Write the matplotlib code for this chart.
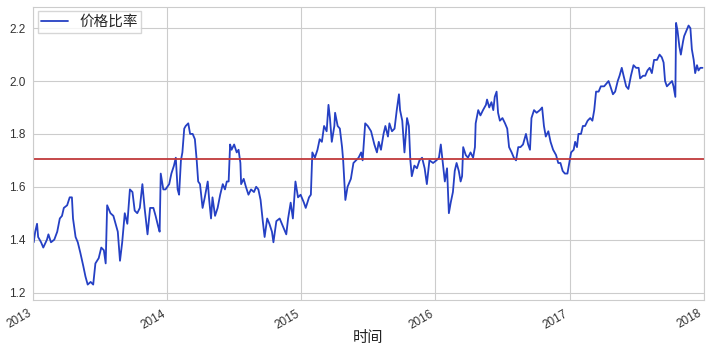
import numpy as np
import pandas as pd
import matplotlib
matplotlib.use('Agg')
import matplotlib.pyplot as plt
import matplotlib.dates as mdates
import seaborn as sns

# --- DANE ---

dates_2013 = ['2013-01-02', '2013-01-06', '2013-01-11', '2013-01-14', '2013-01-22', '2013-01-28',
              '2013-02-07', '2013-02-11', '2013-02-18', '2013-02-27', '2013-03-07', '2013-03-14',
              '2013-03-20', '2013-03-25', '2013-04-03', '2013-04-10', '2013-04-16', '2013-04-19',
              '2013-04-26', '2013-05-02', '2013-05-09', '2013-05-17', '2013-05-23', '2013-05-29',
              '2013-06-06', '2013-06-13', '2013-06-19', '2013-06-28', '2013-07-05', '2013-07-12',
              '2013-07-17', '2013-07-21', '2013-07-30', '2013-08-07', '2013-08-13', '2013-08-19',
              '2013-08-25', '2013-08-31', '2013-09-07', '2013-09-14', '2013-09-21', '2013-09-28',
              '2013-10-04', '2013-10-11', '2013-10-18', '2013-10-25', '2013-10-31', '2013-11-08',
              '2013-11-15', '2013-11-24', '2013-11-30', '2013-12-07', '2013-12-11', '2013-12-14',
              '2013-12-21', '2013-12-27']
ratio_2013 = [1.39, 1.43, 1.46, 1.41, 1.39, 1.37,
              1.40, 1.42, 1.39, 1.40, 1.43, 1.48,
              1.49, 1.52, 1.53, 1.56, 1.56, 1.48,
              1.41, 1.39, 1.35, 1.30, 1.26, 1.23,
              1.24, 1.23, 1.31, 1.33, 1.37, 1.36,
              1.31, 1.53, 1.50, 1.49, 1.46, 1.43,
              1.32, 1.39, 1.50, 1.46, 1.59, 1.58,
              1.51, 1.50, 1.52, 1.61, 1.52, 1.42,
              1.52, 1.52, 1.49, 1.45, 1.43, 1.65,
              1.59, 1.59]

dates_2014 = ['2014-01-06', '2014-01-12', '2014-01-19', '2014-01-24', '2014-01-29', '2014-02-02',
              '2014-02-07', '2014-02-11', '2014-02-16', '2014-02-20', '2014-02-27', '2014-03-04',
              '2014-03-11', '2014-03-17', '2014-03-22', '2014-03-26', '2014-03-31', '2014-04-07',
              '2014-04-13', '2014-04-21', '2014-04-25', '2014-04-30', '2014-05-04', '2014-05-11',
              '2014-05-18', '2014-05-25', '2014-06-01', '2014-06-07', '2014-06-12', '2014-06-17',
              '2014-06-21', '2014-06-25', '2014-07-02', '2014-07-09', '2014-07-14', '2014-07-19',
              '2014-07-21', '2014-07-28', '2014-08-03', '2014-08-10', '2014-08-17', '2014-08-25',
              '2014-08-31', '2014-09-06', '2014-09-12', '2014-09-18', '2014-09-23', '2014-09-30',
              '2014-10-06', '2014-10-13', '2014-10-17', '2014-10-25', '2014-11-03', '2014-11-09',
              '2014-11-15', '2014-11-21', '2014-11-26', '2014-12-03', '2014-12-09', '2014-12-16',
              '2014-12-23', '2014-12-30']
ratio_2014 = [1.61, 1.65, 1.68, 1.71, 1.59, 1.57,
              1.70, 1.73, 1.82, 1.83, 1.84, 1.80,
              1.80, 1.78, 1.70, 1.62, 1.61, 1.52,
              1.56, 1.62, 1.55, 1.48, 1.56, 1.49,
              1.52, 1.57, 1.61, 1.59, 1.62, 1.62,
              1.76, 1.74, 1.76, 1.73, 1.74, 1.69,
              1.61, 1.63, 1.60, 1.57, 1.59, 1.58,
              1.60, 1.59, 1.55, 1.47, 1.41, 1.48,
              1.46, 1.43, 1.39, 1.47, 1.48, 1.46,
              1.44, 1.42, 1.48, 1.54, 1.48, 1.62,
              1.56, 1.57]

dates_2015 = ['2015-01-08', '2015-01-13', '2015-01-22', '2015-01-27', '2015-01-31', '2015-02-07',
              '2015-02-14', '2015-02-20', '2015-02-26', '2015-03-04', '2015-03-11', '2015-03-16',
              '2015-03-20', '2015-03-25', '2015-04-01', '2015-04-03', '2015-04-10', '2015-04-16',
              '2015-04-22', '2015-04-25', '2015-05-01', '2015-05-07', '2015-05-16', '2015-05-23',
              '2015-05-30', '2015-06-06', '2015-06-13', '2015-06-17', '2015-06-24', '2015-07-01',
              '2015-07-10', '2015-07-19', '2015-07-26', '2015-07-31', '2015-08-06', '2015-08-13',
              '2015-08-18', '2015-08-25', '2015-08-29', '2015-09-05', '2015-09-12', '2015-09-18',
              '2015-09-24', '2015-09-27', '2015-10-03', '2015-10-09', '2015-10-16', '2015-10-21',
              '2015-10-25', '2015-10-29', '2015-11-05', '2015-11-12', '2015-11-19', '2015-11-26',
              '2015-12-03', '2015-12-09', '2015-12-16', '2015-12-26']
ratio_2015 = [1.54, 1.52, 1.56, 1.57, 1.73, 1.71,
              1.74, 1.78, 1.77, 1.83, 1.81, 1.91,
              1.86, 1.77, 1.83, 1.88, 1.83, 1.82,
              1.75, 1.70, 1.55, 1.60, 1.63, 1.69,
              1.70, 1.71, 1.73, 1.70, 1.84, 1.83,
              1.81, 1.76, 1.73, 1.77, 1.74, 1.80,
              1.83, 1.79, 1.84, 1.81, 1.82, 1.89,
              1.95, 1.89, 1.85, 1.73, 1.86, 1.83,
              1.70, 1.64, 1.68, 1.67, 1.70, 1.71,
              1.67, 1.61, 1.70, 1.69]

dates_2016 = ['2016-01-04', '2016-01-11', '2016-01-16', '2016-01-20', '2016-01-27', '2016-02-02',
              '2016-02-07', '2016-02-12', '2016-02-18', '2016-02-23', '2016-02-28', '2016-03-05',
              '2016-03-10', '2016-03-14', '2016-03-17', '2016-03-24', '2016-03-30', '2016-04-06',
              '2016-04-13', '2016-04-18', '2016-04-20', '2016-04-27', '2016-05-03', '2016-05-10',
              '2016-05-18', '2016-05-21', '2016-05-27', '2016-06-02', '2016-06-07', '2016-06-11',
              '2016-06-16', '2016-06-20', '2016-06-25', '2016-07-02', '2016-07-09', '2016-07-15',
              '2016-07-20', '2016-07-27', '2016-08-02', '2016-08-08', '2016-08-14', '2016-08-20',
              '2016-08-27', '2016-09-04', '2016-09-10', '2016-09-15', '2016-09-19', '2016-09-26',
              '2016-10-03', '2016-10-12', '2016-10-18', '2016-10-23', '2016-10-28', '2016-11-04',
              '2016-11-10', '2016-11-17', '2016-11-25', '2016-12-01', '2016-12-07', '2016-12-13',
              '2016-12-19', '2016-12-26']
ratio_2016 = [1.70, 1.71, 1.76, 1.71, 1.62, 1.67,
              1.50, 1.54, 1.58, 1.66, 1.69, 1.66,
              1.62, 1.64, 1.75, 1.72, 1.71, 1.73,
              1.71, 1.75, 1.84, 1.89, 1.87, 1.89,
              1.91, 1.93, 1.90, 1.92, 1.89, 1.94,
              1.96, 1.88, 1.85, 1.86, 1.84, 1.82,
              1.75, 1.73, 1.71, 1.70, 1.75, 1.75,
              1.76, 1.80, 1.76, 1.74, 1.86, 1.89,
              1.88, 1.89, 1.90, 1.83, 1.79, 1.81,
              1.77, 1.74, 1.72, 1.69, 1.69, 1.66,
              1.65, 1.65]

dates_2017 = ['2017-01-05', '2017-01-12', '2017-01-16', '2017-01-21', '2017-01-25', '2017-02-01',
              '2017-02-06', '2017-02-12', '2017-02-19', '2017-02-26', '2017-03-04', '2017-03-09',
              '2017-03-14', '2017-03-21', '2017-03-27', '2017-04-05', '2017-04-17', '2017-04-22',
              '2017-04-29', '2017-05-05', '2017-05-12', '2017-05-17', '2017-05-23', '2017-05-28',
              '2017-06-04', '2017-06-10', '2017-06-17', '2017-06-24', '2017-07-01', '2017-07-08',
              '2017-07-12', '2017-07-20', '2017-07-26', '2017-08-01', '2017-08-07', '2017-08-13',
              '2017-08-19', '2017-08-27', '2017-09-03', '2017-09-09', '2017-09-14', '2017-09-18',
              '2017-09-23', '2017-09-30', '2017-10-07', '2017-10-11', '2017-10-16', '2017-10-18',
              '2017-10-22', '2017-10-27', '2017-10-31', '2017-11-06', '2017-11-09', '2017-11-15',
              '2017-11-21', '2017-11-26', '2017-11-30', '2017-12-05', '2017-12-09', '2017-12-14',
              '2017-12-18', '2017-12-23', '2017-12-29']
ratio_2017 = [1.73, 1.74, 1.77, 1.75, 1.80, 1.80,
              1.83, 1.83, 1.85, 1.86, 1.85, 1.89,
              1.96, 1.96, 1.98, 1.98, 2.00, 1.98,
              1.95, 1.96, 2.00, 2.02, 2.05, 2.02,
              1.98, 1.97, 2.02, 2.06, 2.05, 2.05,
              2.01, 2.02, 2.02, 2.04, 2.05, 2.03,
              2.08, 2.08, 2.10, 2.09, 2.07, 2.00,
              1.98, 1.99, 2.00, 1.98, 1.94, 2.22,
              2.19, 2.13, 2.10, 2.15, 2.17, 2.19,
              2.21, 2.20, 2.12, 2.08, 2.03, 2.06,
              2.04, 2.05, 2.05]

mean_ratio = 1.705   # czerwona linia (srednia)

# --- SERIA ---
dates = pd.to_datetime(dates_2013 + dates_2014 + dates_2015 + dates_2016 + dates_2017)
ratio = pd.Series(ratio_2013 + ratio_2014 + ratio_2015 + ratio_2016 + ratio_2017, index=dates)

# --- WYKRES ---
sns.set_style('whitegrid')
plt.rcParams['font.family'] = ['Liberation Sans', 'Noto Sans CJK SC', 'DejaVu Sans']

fig = plt.figure(figsize=(7.1, 3.52), dpi=100)
ax = fig.add_axes([0.047, 0.148, 0.944, 0.832])

ax.plot(ratio.index, ratio.values, color='#2540c4', lw=1.3, label='价格比率')
ax.axhline(mean_ratio, color='#c0393b', lw=1.3)

ax.set_xlim(pd.Timestamp('2013-01-01'), pd.Timestamp('2018-01-01'))
ax.set_ylim(1.172, 2.28)
ax.set_yticks([1.2, 1.4, 1.6, 1.8, 2.0, 2.2])
ax.xaxis.set_major_locator(mdates.YearLocator())
ax.xaxis.set_major_formatter(mdates.DateFormatter('%Y'))

for lbl in ax.get_xticklabels():
    lbl.set_rotation(30)
    lbl.set_ha('right')
ax.tick_params(axis='both', labelsize=8.5, colors='#333333', pad=2)
ax.set_xlabel('时间', fontsize=11, color='#222222', labelpad=0)

for sp in ax.spines.values():
    sp.set_color('#cccccc')

leg = ax.legend(loc='upper left', fontsize=10.5, frameon=True, borderpad=0.25,
                handlelength=1.8, borderaxespad=0.3, fancybox=False)
leg.get_frame().set_edgecolor('#cccccc')

fig.savefig('out.png', dpi=100)
